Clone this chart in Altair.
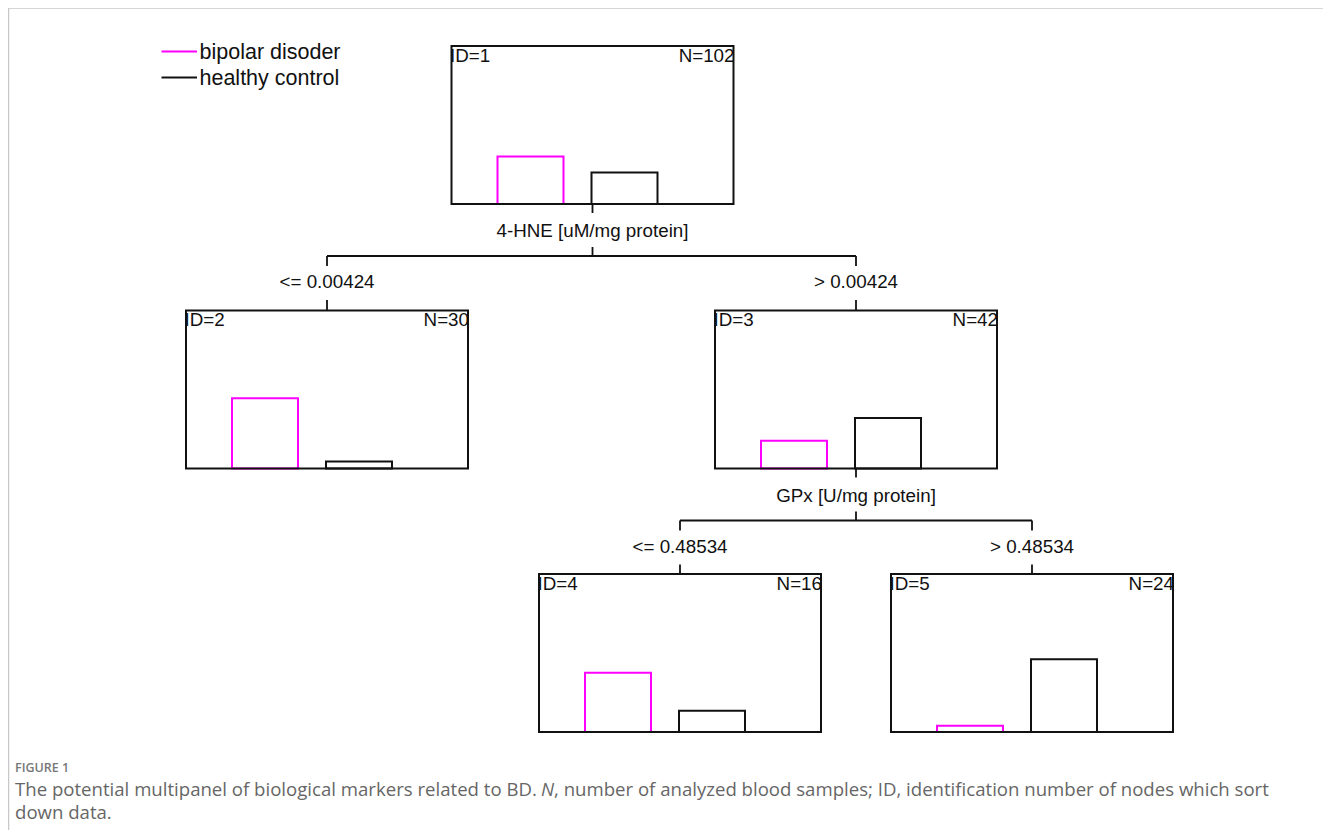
import altair as alt
import pandas as pd

# ---------------- data ----------------
node_ids = [1, 2, 3, 4, 5]
node_n = [102, 30, 42, 16, 24]
bd_share = [0.60, 0.89, 0.35, 0.75, 0.08]   # bipolar disorder proportion per node
hc_share = [0.40, 0.09, 0.64, 0.27, 0.92]   # healthy control proportion per node
class_labels = ["bipolar disoder", "healthy control"]

split_node = [1, 3]
split_var = ["4-HNE [uM/mg protein]", "GPx [U/mg protein]"]
split_cut = ["0.00424", "0.48534"]
split_children = [[2, 3], [4, 5]]

fig_label = "FIGURE 1"
caption_a = "The potential multipanel of biological markers related to BD."
caption_n = "N"
caption_b = ", number of analyzed blood samples; ID, identification number of nodes which sort"
caption_c = "down data."

# ---------------- layout / styles ----------------
W, H = 1315, 822
X = alt.Scale(domain=[8, 8 + W], range=[0, W], nice=False, zero=False)
Y = alt.Scale(domain=[8, 8 + H], range=[0, H], nice=False, zero=False)

BOX_W, BOX_H = 282, 158
BAR_PX = 79
node_left = {1: 451.5, 2: 186, 3: 715, 4: 539, 5: 891}
node_top = {1: 46, 2: 310.5, 3: 310.5, 4: 574, 5: 574}
class_colors = ["#ff00ff", "#111111"]
bar_offsets = [(46, 112), (140, 206)]
FONT = "Liberation Sans"
TREE_FS = 18.8


def center(n):
    return node_left[n] + BOX_W / 2


def bottom(n):
    return node_top[n] + BOX_H


# boxes
boxes = pd.DataFrame({
    "x0": [node_left[n] for n in node_ids],
    "x1": [node_left[n] + BOX_W for n in node_ids],
    "y0": [node_top[n] for n in node_ids],
    "y1": [bottom(n) for n in node_ids],
})

# bars
bar_rows = []
for i, n in enumerate(node_ids):
    for k, share in enumerate([bd_share[i], hc_share[i]]):
        a, b = bar_offsets[k]
        bar_rows.append({
            "x0": node_left[n] + a, "x1": node_left[n] + b,
            "y0": bottom(n), "y1": bottom(n) - share * BAR_PX,
            "col": class_colors[k],
        })
bars = pd.DataFrame(bar_rows)

# connectors and split labels
seg = []
var_lab = []
cut_lab = []
for p, var, cut, kids in zip(split_node, split_var, split_cut, split_children):
    cx, yb = center(p), bottom(p)
    seg.append((cx, yb, cx, yb + 9, "#111111", 1.8))
    var_lab.append({"x": cx, "y": yb + 33, "t": var})
    seg.append((cx, yb + 43, cx, yb + 52, "#111111", 1.8))
    seg.append((center(kids[0]), yb + 52, center(kids[1]), yb + 52, "#111111", 1.8))
    for j, c in enumerate(kids):
        cc = center(c)
        seg.append((cc, yb + 52, cc, yb + 62, "#111111", 1.8))
        cut_lab.append({"x": cc, "y": yb + 84, "t": ("<= " if j == 0 else "> ") + cut})
        seg.append((cc, yb + 96, cc, node_top[c], "#111111", 1.8))

# legend lines
for k in range(2):
    seg.append((161.5, 51.5 + 26 * k, 197, 51.5 + 26 * k, class_colors[k], 1.8))
# page frame
seg.append((8, 8, 8 + W, 8, "#c8c8c8", 1.5))
seg.append((8.5, 8, 8.5, 8 + H, "#c8c8c8", 1.5))
segs = pd.DataFrame(seg, columns=["x0", "y0", "x1", "y1", "col", "w"])

id_lab = pd.DataFrame({"x": [node_left[n] - 1.5 for n in node_ids],
                       "y": [node_top[n] + 15.7 for n in node_ids],
                       "t": [f"ID={n}" for n in node_ids]})
n_lab = pd.DataFrame({"x": [node_left[n] + BOX_W + 1 for n in node_ids],
                      "y": [node_top[n] + 15.7 for n in node_ids],
                      "t": [f"N={v}" for v in node_n]})
leg_lab = pd.DataFrame({"x": [199.5, 199.5], "y": [58.5, 84.5], "t": class_labels})

enc_rect = dict(x=alt.X("x0:Q", scale=X, axis=None), x2="x1:Q",
                y=alt.Y("y0:Q", scale=Y, axis=None), y2="y1:Q")

bar_layer = alt.Chart(bars).mark_rect(fill="white", fillOpacity=0, strokeWidth=2).encode(
    stroke=alt.Stroke("col:N", scale=None), **enc_rect)
box_layer = alt.Chart(boxes).mark_rect(fill="white", fillOpacity=0, stroke="#111111",
                                       strokeWidth=2).encode(**enc_rect)
rule_layer = alt.Chart(segs).mark_rule().encode(
    x=alt.X("x0:Q", scale=X, axis=None), x2="x1:Q",
    y=alt.Y("y0:Q", scale=Y, axis=None), y2="y1:Q",
    stroke=alt.Stroke("col:N", scale=None),
    strokeWidth=alt.StrokeWidth("w:Q", scale=None))


def text_layer(df, align, size, color=None, font=FONT, weight="normal", style="normal"):
    return alt.Chart(df).mark_text(align=align, baseline="alphabetic", fontSize=size,
                                   font=font, color=color or "#111111",
                                   fontWeight=weight, fontStyle=style).encode(
        x=alt.X("x:Q", scale=X, axis=None), y=alt.Y("y:Q", scale=Y, axis=None),
        text="t:N")


cap_font = "Open Sans"
cap_color = "#666666"
CAP_FS = 18.6
figlab = pd.DataFrame({"x": [15], "y": [772], "t": [fig_label]})
capA = pd.DataFrame({"x": [15], "y": [796], "t": [caption_a]})
capN = pd.DataFrame({"x": [541], "y": [796], "t": [caption_n]})
capB = pd.DataFrame({"x": [554], "y": [796], "t": [caption_b]})
capC = pd.DataFrame({"x": [15], "y": [819], "t": [caption_c]})

chart = alt.layer(
    bar_layer,
    box_layer,
    rule_layer,
    text_layer(id_lab, "left", TREE_FS),
    text_layer(n_lab, "right", TREE_FS),
    text_layer(pd.DataFrame(var_lab), "center", TREE_FS),
    text_layer(pd.DataFrame(cut_lab), "center", TREE_FS),
    text_layer(leg_lab, "left", 21.5),
    text_layer(figlab, "left", 12.5, "#777777", cap_font, 600),
    text_layer(capA, "left", CAP_FS, cap_color, cap_font),
    text_layer(capN, "left", CAP_FS, cap_color, cap_font, "normal", "italic"),
    text_layer(capB, "left", CAP_FS, cap_color, cap_font),
    text_layer(capC, "left", CAP_FS, cap_color, cap_font),
).properties(width=W, height=H, autosize=alt.AutoSizeParams(type="none"), padding=0
).configure_view(stroke=None)

chart.save("out.html", embed_options={"renderer": "svg", "actions": False})
